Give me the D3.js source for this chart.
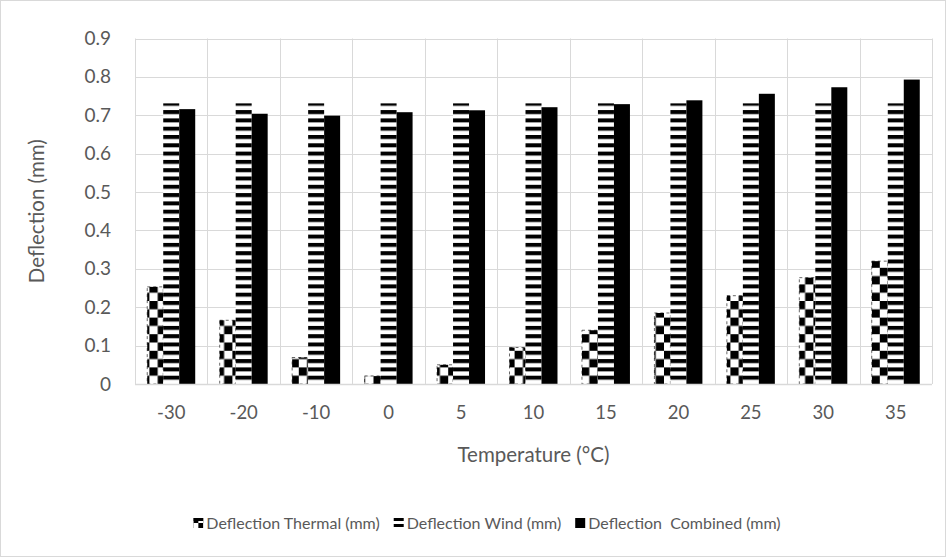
<!DOCTYPE html>
<html>
<head>
<meta charset="utf-8">
<script src="https://cdn.jsdelivr.net/npm/d3@7"></script>
<style>
  html, body { margin: 0; padding: 0; background: #fff; }
  svg { display: block; }
  text { font-family: Lato, "Open Sans", sans-serif; fill: #595959; white-space: pre; }
</style>
</head>
<body>
<svg id="chart" width="947" height="558"></svg>
<script>
// Temperature categories (°C)
const temperatures = ["-30", "-20", "-10", "0", "5", "10", "15", "20", "25", "30", "35"];
// Deflection components in mm
const thermal = [0.253, 0.166, 0.069, 0.021, 0.05, 0.095, 0.14, 0.185, 0.23, 0.277, 0.32];
const wind = [0.731, 0.731, 0.731, 0.731, 0.731, 0.731, 0.731, 0.731, 0.731, 0.731, 0.731];
const combined = [0.716, 0.704, 0.699, 0.708, 0.713, 0.721, 0.729, 0.739, 0.756, 0.773, 0.793];
const seriesNames = ["Deflection Thermal (mm)", "Deflection Wind (mm)", "Deflection  Combined (mm)"];
const yTicks = [0, 0.1, 0.2, 0.3, 0.4, 0.5, 0.6, 0.7, 0.8, 0.9];
const yTickLabels = ["0", "0.1", "0.2", "0.3", "0.4", "0.5", "0.6", "0.7", "0.8", "0.9"];

const svg = d3.select("#chart");
const W = 947, H = 558;
const plot = { left: 135, right: 932, top: 38.5, bottom: 384 };

// outer chart frame
svg.append("rect")
  .attr("x", 0.5).attr("y", 0.5).attr("width", W - 2).attr("height", H - 2)
  .attr("fill", "#fff").attr("stroke", "#d9d9d9").attr("stroke-width", 1);

// fill patterns
const defs = svg.append("defs");
const cs = 8.3;
const checker = defs.append("pattern").attr("id", "pat-checker")
  .attr("patternUnits", "userSpaceOnUse").attr("width", cs * 2).attr("height", cs * 2)
  .attr("x", 0).attr("y", plot.bottom);
checker.append("rect").attr("width", cs * 2).attr("height", cs * 2).attr("fill", "#fff");
checker.append("rect").attr("x", 0).attr("y", 0).attr("width", cs).attr("height", cs).attr("fill", "#000");
checker.append("rect").attr("x", cs).attr("y", cs).attr("width", cs).attr("height", cs).attr("fill", "#000");

const sp = 8.3;
const stripes = defs.append("pattern").attr("id", "pat-stripes")
  .attr("patternUnits", "userSpaceOnUse").attr("width", 8).attr("height", sp)
  .attr("x", 0).attr("y", plot.bottom);
stripes.append("rect").attr("width", 8).attr("height", sp).attr("fill", "#fff");
stripes.append("rect").attr("y", 0).attr("width", 8).attr("height", 4).attr("fill", "#000");

const fills = ["url(#pat-checker)", "url(#pat-stripes)", "#000"];

// scales
const x = d3.scaleBand().domain(temperatures).range([plot.left, plot.right]).padding(0);
const x1 = d3.scaleBand().domain([0, 1, 2]).range([0, x.bandwidth()]).paddingInner(0).paddingOuter(0.765);
const y = d3.scaleLinear().domain([0, 0.9]).range([plot.bottom, plot.top]);

// horizontal gridlines
svg.append("g").selectAll("line").data(yTicks).join("line")
  .attr("x1", plot.left).attr("x2", plot.right)
  .attr("y1", d => Math.round(y(d)) + 0.5).attr("y2", d => Math.round(y(d)) + 0.5)
  .attr("stroke", "#d9d9d9").attr("stroke-width", 1);

// vertical gridlines at category boundaries
const bounds = temperatures.map(t => x(t)).concat([plot.right]);
svg.append("g").selectAll("line").data(bounds).join("line")
  .attr("x1", d => Math.round(d) + 0.5).attr("x2", d => Math.round(d) + 0.5)
  .attr("y1", plot.top).attr("y2", plot.bottom)
  .attr("stroke", "#d9d9d9").attr("stroke-width", 1);

// bars
const seriesValues = [thermal, wind, combined];
const bars = svg.append("g");
seriesValues.forEach((vals, si) => {
  bars.append("g").selectAll("rect").data(vals.map((v, i) => ({ t: temperatures[i], v })))
    .join("rect")
    .attr("x", d => x(d.t) + x1(si))
    .attr("width", x1.bandwidth())
    .attr("y", d => y(d.v))
    .attr("height", d => y(0) - y(d.v))
    .attr("fill", fills[si])
    .attr("stroke", si === 0 ? "#000" : "none")
    .attr("stroke-width", si === 0 ? 0.6 : 0)
    .attr("stroke-dasharray", si === 0 ? "3,3" : null);
});

// x axis line
svg.append("line")
  .attr("x1", plot.left).attr("x2", plot.right)
  .attr("y1", Math.round(plot.bottom) + 0.5).attr("y2", Math.round(plot.bottom) + 0.5)
  .attr("stroke", "#d9d9d9").attr("stroke-width", 1.5);

// y axis labels
const yAxis = d3.axisLeft(y).tickValues(yTicks).tickFormat((d, i) => yTickLabels[i]).tickSize(0).tickPadding(24);
const gy = svg.append("g").attr("transform", `translate(${plot.left},0)`).call(yAxis);
gy.select(".domain").remove();
gy.selectAll("text").style("font-size", "19px").attr("fill", "#595959");

// x axis labels
const xAxis = d3.axisBottom(x).tickSize(0).tickPadding(0);
const gx = svg.append("g").attr("transform", `translate(0,${plot.bottom})`).call(xAxis);
gx.select(".domain").remove();
gx.selectAll("text").style("font-size", "18.5px").attr("fill", "#595959")
  .attr("y", 29).attr("dy", "0.35em");

// axis titles
svg.append("text")
  .attr("x", (plot.left + plot.right) / 2).attr("y", 455).attr("dy", "0.35em")
  .attr("text-anchor", "middle").style("font-size", "20.5px")
  .text("Temperature (°C)");
svg.append("text")
  .attr("transform", `translate(37,${(plot.top + plot.bottom) / 2}) rotate(-90)`)
  .attr("dy", "0.35em")
  .attr("text-anchor", "middle").style("font-size", "20.5px")
  .text("Deflection (mm)");

// legend row
const legendY = 523;
const legendCenter = 487;
const legend = svg.append("g");
const items = legend.selectAll("g").data(seriesNames).join("g");
items.append("rect")
  .attr("x", 0).attr("y", -5).attr("width", 10).attr("height", 10)
  .attr("fill", (d, i) => fills[i]);
items.append("text")
  .attr("x", 13).attr("y", 0).attr("dy", "0.35em")
  .style("font-size", "16px")
  .text(d => d);
let widths = [];
items.each(function () { widths.push(this.getBBox().width); });
const gap = 14;
const total = d3.sum(widths) + gap * (widths.length - 1);
let cx = legendCenter - total / 2;
items.attr("transform", (d, i) => {
  const tx = cx; cx += widths[i] + gap;
  return `translate(${tx},${legendY})`;
});

// legend swatch patterns
items.select("rect").each(function (d, i) {
  if (i === 2) return;
  const node = d3.select(this);
  const id = "leg-pat-" + i;
  const p = defs.append("pattern").attr("id", id).attr("patternUnits", "objectBoundingBox")
    .attr("width", 1).attr("height", 1);
  p.append("rect").attr("width", 10).attr("height", 10).attr("fill", "#fff");
  if (i === 0) {
    p.append("rect").attr("x", 0).attr("y", 0).attr("width", 5).attr("height", 5).attr("fill", "#000");
    p.append("rect").attr("x", 5).attr("y", 5).attr("width", 5).attr("height", 5).attr("fill", "#000");
    p.append("rect").attr("x", 5).attr("y", 0).attr("width", 5).attr("height", 3).attr("fill", "#000");
  } else {
    p.append("rect").attr("x", 0).attr("y", 0).attr("width", 10).attr("height", 3).attr("fill", "#000");
    p.append("rect").attr("x", 0).attr("y", 6).attr("width", 10).attr("height", 3).attr("fill", "#000");
  }
  node.attr("fill", `url(#${id})`);
});
</script>
</body>
</html>
